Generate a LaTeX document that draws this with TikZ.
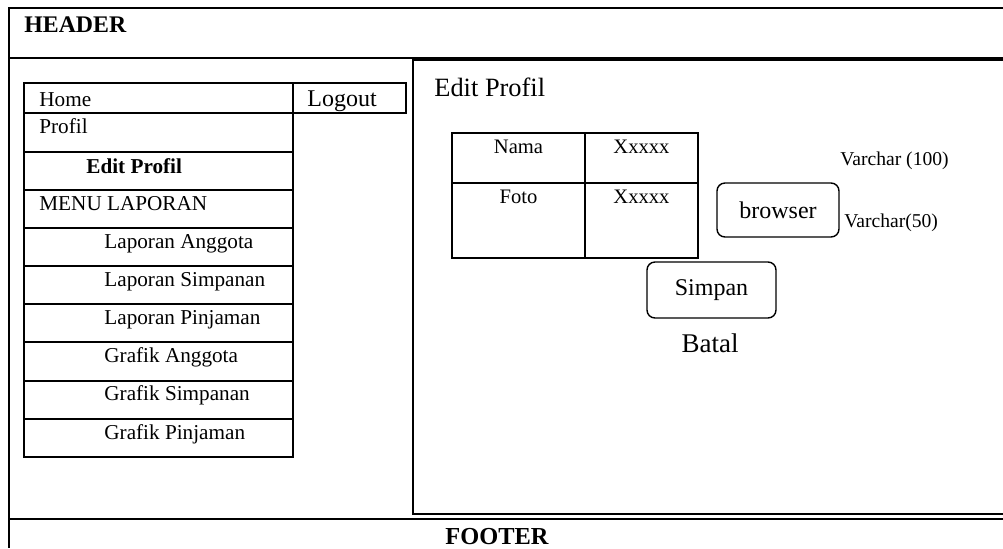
\documentclass[tikz,border=0pt]{standalone}
\usepackage{fontspec}
\setmainfont{Liberation Serif}

\tikzset{
  frame/.style={line width=1.2pt},
  cell/.style={line width=1pt},
  txt/.style={anchor=base west,inner sep=0pt},
  menutxt/.style={txt,font=\fontsize{10.6}{12}\selectfont},
  btn/.style={draw,line width=.7pt,rounded corners=4pt,inner sep=0pt,font=\fontsize{12}{14}\selectfont},
}

\begin{document}
\begin{tikzpicture}[x=.5pt,y=-.5pt]
\useasboundingbox (0,0) rectangle (1003,548);
% page frame
\draw[frame] (1003,8) -- (9,8) -- (9,548);
\draw[frame] (9,58) -- (1003,58);
\draw[frame] (1003,60) -- (413,60) -- (413,514) -- (1003,514);
\draw[frame] (9,519) -- (1003,519);
\node[txt,font=\bfseries\fontsize{11.9}{14}\selectfont] (hdr) at (24,32) {HEADER};
\node[anchor=base,inner sep=0pt,font=\bfseries\fontsize{12.2}{14}\selectfont] (ftr) at (497,544) {FOOTER};

% menu
\draw[cell] (24,83) rectangle (293,457);
\draw[cell] (293,83) rectangle (406,113);
\foreach \y in {113,152,190,228,266,304,342,381,419} \draw[cell] (24,\y) -- (293,\y);
\node[menutxt] (home) at (39,106) {Home};
\node[txt,font=\fontsize{12}{14}\selectfont] (logout) at (307,106) {Logout};
\node[menutxt] (profil) at (39,133) {Profil};
\node[txt,font=\bfseries\fontsize{10.6}{12}\selectfont] (edit) at (86,173) {Edit Profil};
\node[menutxt] (lap) at (39,210) {MENU LAPORAN};
\foreach \t [count=\i from 0] in {Laporan Anggota,Laporan Simpanan,Laporan Pinjaman,Grafik Anggota,Grafik Simpanan,Grafik Pinjaman}
  \node[menutxt] (m\i) at (104,{248+38.2*\i}) {\t};

% content
\node[txt,font=\fontsize{13.2}{15}\selectfont] (title) at (434,96) {Edit Profil};
\draw[cell] (452,133) rectangle (698,258);
\draw[cell] (585,133) -- (585,258);
\draw[cell] (452,183) -- (698,183);
\node[anchor=base,inner sep=0pt,font=\fontsize{10.3}{12}\selectfont] (nama) at (518.5,153) {Nama};
\node[anchor=base,inner sep=0pt,font=\fontsize{10.3}{12}\selectfont] (x1) at (641.5,153) {Xxxxx};
\node[anchor=base,inner sep=0pt,font=\fontsize{10.3}{12}\selectfont] (foto) at (518.5,203) {Foto};
\node[anchor=base,inner sep=0pt,font=\fontsize{10.3}{12}\selectfont] (x2) at (641.5,203) {Xxxxx};
\node[btn,minimum width=61pt,minimum height=27pt] (browse) at (778,210) {browser};
\node[txt,font=\fontsize{9.8}{12}\selectfont] (v1) at (840,165) {Varchar (100)};
\node[txt,font=\fontsize{9.8}{12}\selectfont] (v2) at (844,227) {Varchar(50)};
\node[btn,minimum width=64.5pt,minimum height=28pt] (simpan) at (711.5,290) {Simpan};
\node[anchor=base,inner sep=0pt,font=\fontsize{13.5}{15}\selectfont] (batal) at (710,352) {Batal};
\end{tikzpicture}
\end{document}
